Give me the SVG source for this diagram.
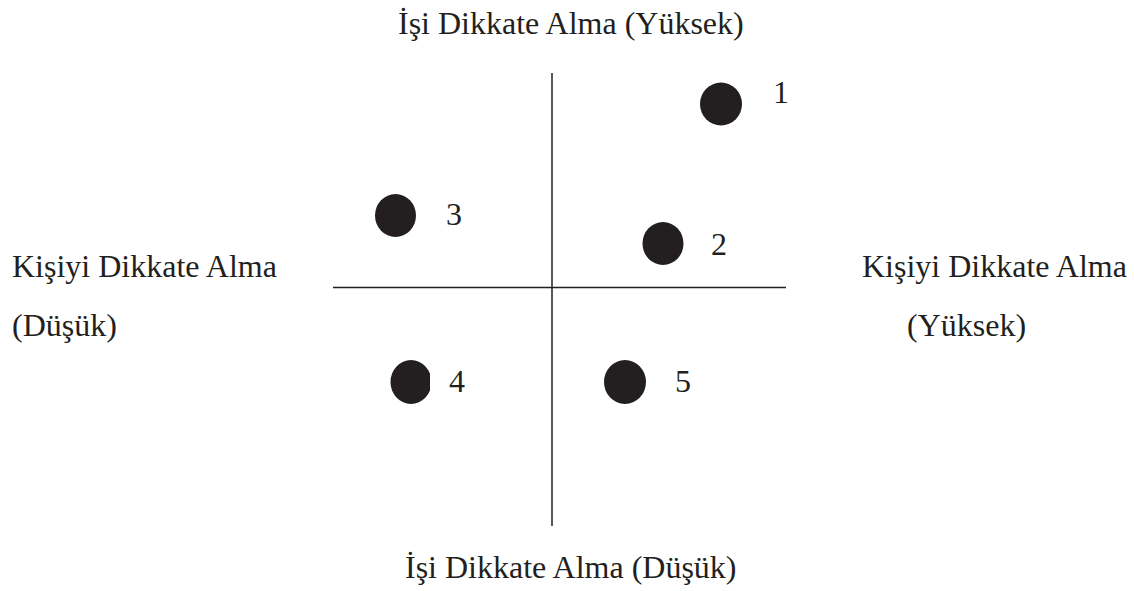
<svg xmlns="http://www.w3.org/2000/svg" width="1134" height="591" viewBox="0 0 1134 591">
<style>
text{font-family:"Liberation Serif","Times New Roman",serif;font-size:32px;fill:#231f20}
.dot{fill:#231f20}
.ax{stroke:#231f20;stroke-width:1.5;fill:none}
</style>
<defs>
<clipPath id="c4"><rect x="380" y="350" width="50" height="70"/></clipPath>
</defs>
<rect width="1134" height="591" fill="#fff"/>
<g id="axes">
<line class="ax" x1="333" y1="287.5" x2="786" y2="287.5"/>
<line class="ax" x1="552" y1="73" x2="552" y2="526"/>
</g>
<g id="label-top"><text x="398" y="34">İşi Dikkate Alma (Yüksek)</text></g>
<g id="label-bottom"><text x="405" y="578">İşi Dikkate Alma (Düşük)</text></g>
<g id="label-left"><text x="12" y="277">Kişiyi Dikkate Alma</text><text x="12" y="336">(Düşük)</text></g>
<g id="label-right"><text x="862" y="277">Kişiyi Dikkate Alma</text><text x="907" y="336">(Yüksek)</text></g>
<g id="node1"><ellipse class="dot" cx="721" cy="104" rx="21" ry="21.5"/><text x="773" y="103">1</text></g>
<g id="node2"><ellipse class="dot" cx="663" cy="243.5" rx="20.5" ry="21.5"/><text x="711" y="255">2</text></g>
<g id="node3"><ellipse class="dot" cx="395.5" cy="215.5" rx="20.5" ry="21.5"/><text x="446" y="225">3</text></g>
<g id="node4"><ellipse class="dot" cx="411" cy="382" rx="20.5" ry="22" clip-path="url(#c4)"/><text x="449" y="392">4</text></g>
<g id="node5"><ellipse class="dot" cx="625" cy="382" rx="21" ry="22"/><text x="675" y="392">5</text></g>
</svg>
